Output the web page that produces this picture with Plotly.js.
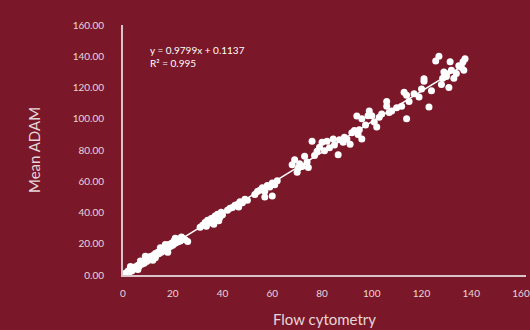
<!DOCTYPE html>
<html>
<head>
<meta charset="utf-8">
<script src="https://cdn.plot.ly/plotly-3.0.1.min.js"></script>
<style>html,body{margin:0;padding:0;background:#7a1829;}#chart{width:530px;height:330px;}</style>
</head>
<body>
<div id="chart"></div>
<script>
// Flow cytometry (x) vs Mean ADAM (y)
const flowCytometry = [
  0.5,1,1.5,2,2.5,3,3.5,4,4.5,5,5.5,6,6.5,7,7.5,8,8.5,9,9.5,10,
  10.5,11,11.5,12,12.5,13,13.5,14,14.5,15,15.5,16,16.5,17,17.5,18,18.5,19,19.5,20,
  20.5,21,21.5,22,22.5,23,24,25,23.5,26,
  3,6,9,12,15,18,21,7,13,17,
  31,32,33,33.5,34,35,35.5,36,37,37.5,38,39,39.5,40,36.5,38.5,
  42,43,44,45,46,47,48,49,50,46.5,
  53,54,55,56,57,58,59,60,61,60,57,62,
  68,69,70,70.5,71,72,73,74,74.5,76,77,78,79,80,81,82,83,84.5,85,86.5,87,88.5,89,90,91.3,92,93,94.5,96,
  94,95,96,97.5,98.5,99,100,101,102,103,104,106,106,107,108,110,112,113,114,114,115,117,119,120,121,121,
  123,124,125.7,127,128,128.5,129,130,130,131,131.5,132,133,134,136,136.7,137.5,137,135
];
const meanADAM = [
  0.3,1.2,0.8,2.5,1.8,3.2,2.6,4.5,3.8,5.3,4.6,6.2,5.7,7.4,6.9,8.1,7.6,9.3,8.7,10.4,
  9.6,11.8,10.9,12.5,11.6,13.8,12.9,14.6,13.7,15.8,14.6,17.2,15.9,16.4,18.3,17.1,19.6,18.2,20.4,19.1,
  21.7,20.3,22.4,21.2,23.1,21.8,23.6,22.5,24.4,21.5,
  5.5,3.5,12,9.5,17.5,14.5,23.5,9,11,19.5,
  30.5,31.8,33.6,31.2,35,33.5,36.2,34.6,37.8,35.5,38.9,37.2,40.1,38.6,32.5,34.8,
  41.5,42.8,43.2,44.6,45.1,46.9,46.2,48.5,47.8,43.5,
  51.5,53.4,54.2,55.8,53.6,57.3,56.4,58.9,57.8,50.5,50,60.4,
  70.5,73.8,65.7,68.5,71.2,69.5,76,72.3,68.8,85.6,76.5,79.2,81.8,85,79.6,85.6,81.4,87,83.2,77,86.5,85,88.2,87,83.7,91,92.5,90,87,
  101.7,93,100,96,102,105,102,98,94.7,101,103,111,108,104,105,107,108,117,115,100,111,116,114,119,124,125.6,
  107.5,118,137,140,122,126,130,127,128.8,120,136.5,131,126,129,133,136.5,138.4,131,134
];
// Trendline as printed on the chart
const slope = 0.9799;
const intercept = 0.1137;
const trendX = [0, 137.5];
const trendY = trendX.map(x => slope * x + intercept);
const equationText = ["y = 0.9799x + 0.1137", "R² = 0.995"];
const xTicks = [0,20,40,60,80,100,120,140,160];
const yTicks = [0,20,40,60,80,100,120,140,160];

const bg = '#7a1829';
const fg = '#e6d6da';
const axisCol = '#d8c4c8';
const font = 'Lato, "Open Sans", sans-serif';

const data = [
  {x: flowCytometry, y: meanADAM, type: 'scatter', mode: 'markers',
   marker: {color: '#ffffff', size: 7, line: {width: 0}}, hoverinfo: 'skip'},
  {x: trendX, y: trendY, type: 'scatter', mode: 'lines',
   line: {color: '#ffffff', width: 1.5}, hoverinfo: 'skip'}
];

const layout = {
  width: 530, height: 330,
  paper_bgcolor: bg, plot_bgcolor: bg,
  showlegend: false,
  margin: {l: 123, r: 4, t: 25, b: 55},
  font: {family: font, color: fg, size: 10},
  xaxis: {
    range: [0, 162], tickvals: xTicks, ticktext: xTicks.map(String),
    showline: true, linecolor: axisCol, linewidth: 2,
    showgrid: false, zeroline: false, ticks: '',
    ticklabelstandoff: 8,
    tickfont: {family: font, size: 10, color: fg},
    title: {text: 'Flow cytometry', font: {family: font, size: 15, color: fg}, standoff: 16}
  },
  yaxis: {
    range: [0, 160], tickvals: yTicks, ticktext: yTicks.map(v => v.toFixed(2)),
    showline: true, linecolor: axisCol, linewidth: 2,
    showgrid: false, zeroline: false, ticks: '',
    ticklabelstandoff: 15,
    tickfont: {family: font, size: 10, color: fg},
    title: {text: 'Mean ADAM', font: {family: font, size: 15, color: fg}, standoff: 28}
  },
  annotations: [{
    xref: 'paper', yref: 'paper', x: 0.062, y: 0.93, xanchor: 'left', yanchor: 'top',
    align: 'left', showarrow: false,
    text: equationText.join('<br>'),
    font: {family: font, size: 10, color: '#ffffff'}
  }]
};

Plotly.newPlot('chart', data, layout, {displayModeBar: false, staticPlot: true});
</script>
</body>
</html>
